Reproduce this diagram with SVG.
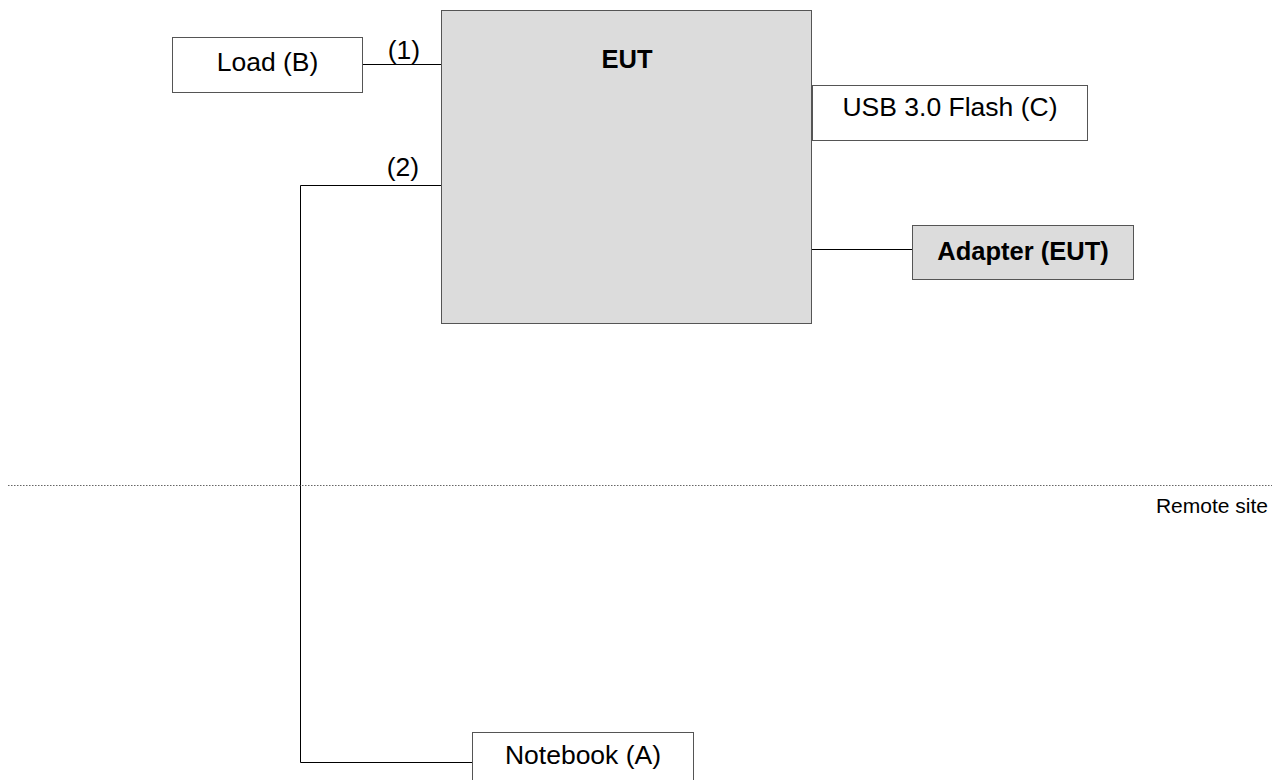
<svg xmlns="http://www.w3.org/2000/svg" width="1283" height="780" viewBox="0 0 1283 780">
<style>
  .box { fill: #ffffff; stroke: #555555; stroke-width: 1; }
  .grey { fill: #dcdcdc; stroke: #555555; stroke-width: 1; }
  .t { font-family: "Liberation Sans", Arial, sans-serif; font-size: 26.5px; fill: #000; text-anchor: middle; }
  .b { font-weight: bold; font-size: 25.5px; }
  .wire { fill: none; stroke: #000; stroke-width: 1; }
  .dot { fill: none; stroke: #666; stroke-width: 1; stroke-dasharray: 1.5 1.5; }
</style>
<rect width="1283" height="780" fill="#ffffff"/>
<g id="connectors">
  <line class="wire" x1="363" y1="64.5" x2="441" y2="64.5"/>
  <polyline class="wire" points="441,185.5 300.5,185.5 300.5,762.5 472,762.5"/>
  <line class="wire" x1="812" y1="249.5" x2="912" y2="249.5"/>
  <text class="t" x="404" y="59">(1)</text>
  <text class="t" x="403" y="176">(2)</text>
</g>
<line class="dot" x1="8" y1="485.5" x2="1272" y2="485.5"/>
<text x="1268" y="513" font-family="Liberation Sans, Arial, sans-serif" font-size="21" text-anchor="end">Remote site</text>
<g id="eut">
  <rect class="grey" x="441.5" y="10.5" width="370" height="313"/>
  <text class="t b" x="627" y="68">EUT</text>
</g>
<g id="load">
  <rect class="box" x="172.5" y="37.5" width="190" height="55"/>
  <text class="t" x="267.5" y="71">Load (B)</text>
</g>
<g id="usb">
  <rect class="box" x="812.5" y="85.5" width="275" height="55"/>
  <text class="t" x="950" y="116">USB 3.0 Flash (C)</text>
</g>
<g id="adapter">
  <rect class="grey" x="912.5" y="225.5" width="221" height="54"/>
  <text class="t b" x="1023" y="260">Adapter (EUT)</text>
</g>
<g id="notebook">
  <rect class="box" x="472.5" y="732.5" width="221" height="60"/>
  <text class="t" x="583" y="764">Notebook (A)</text>
</g>
</svg>
